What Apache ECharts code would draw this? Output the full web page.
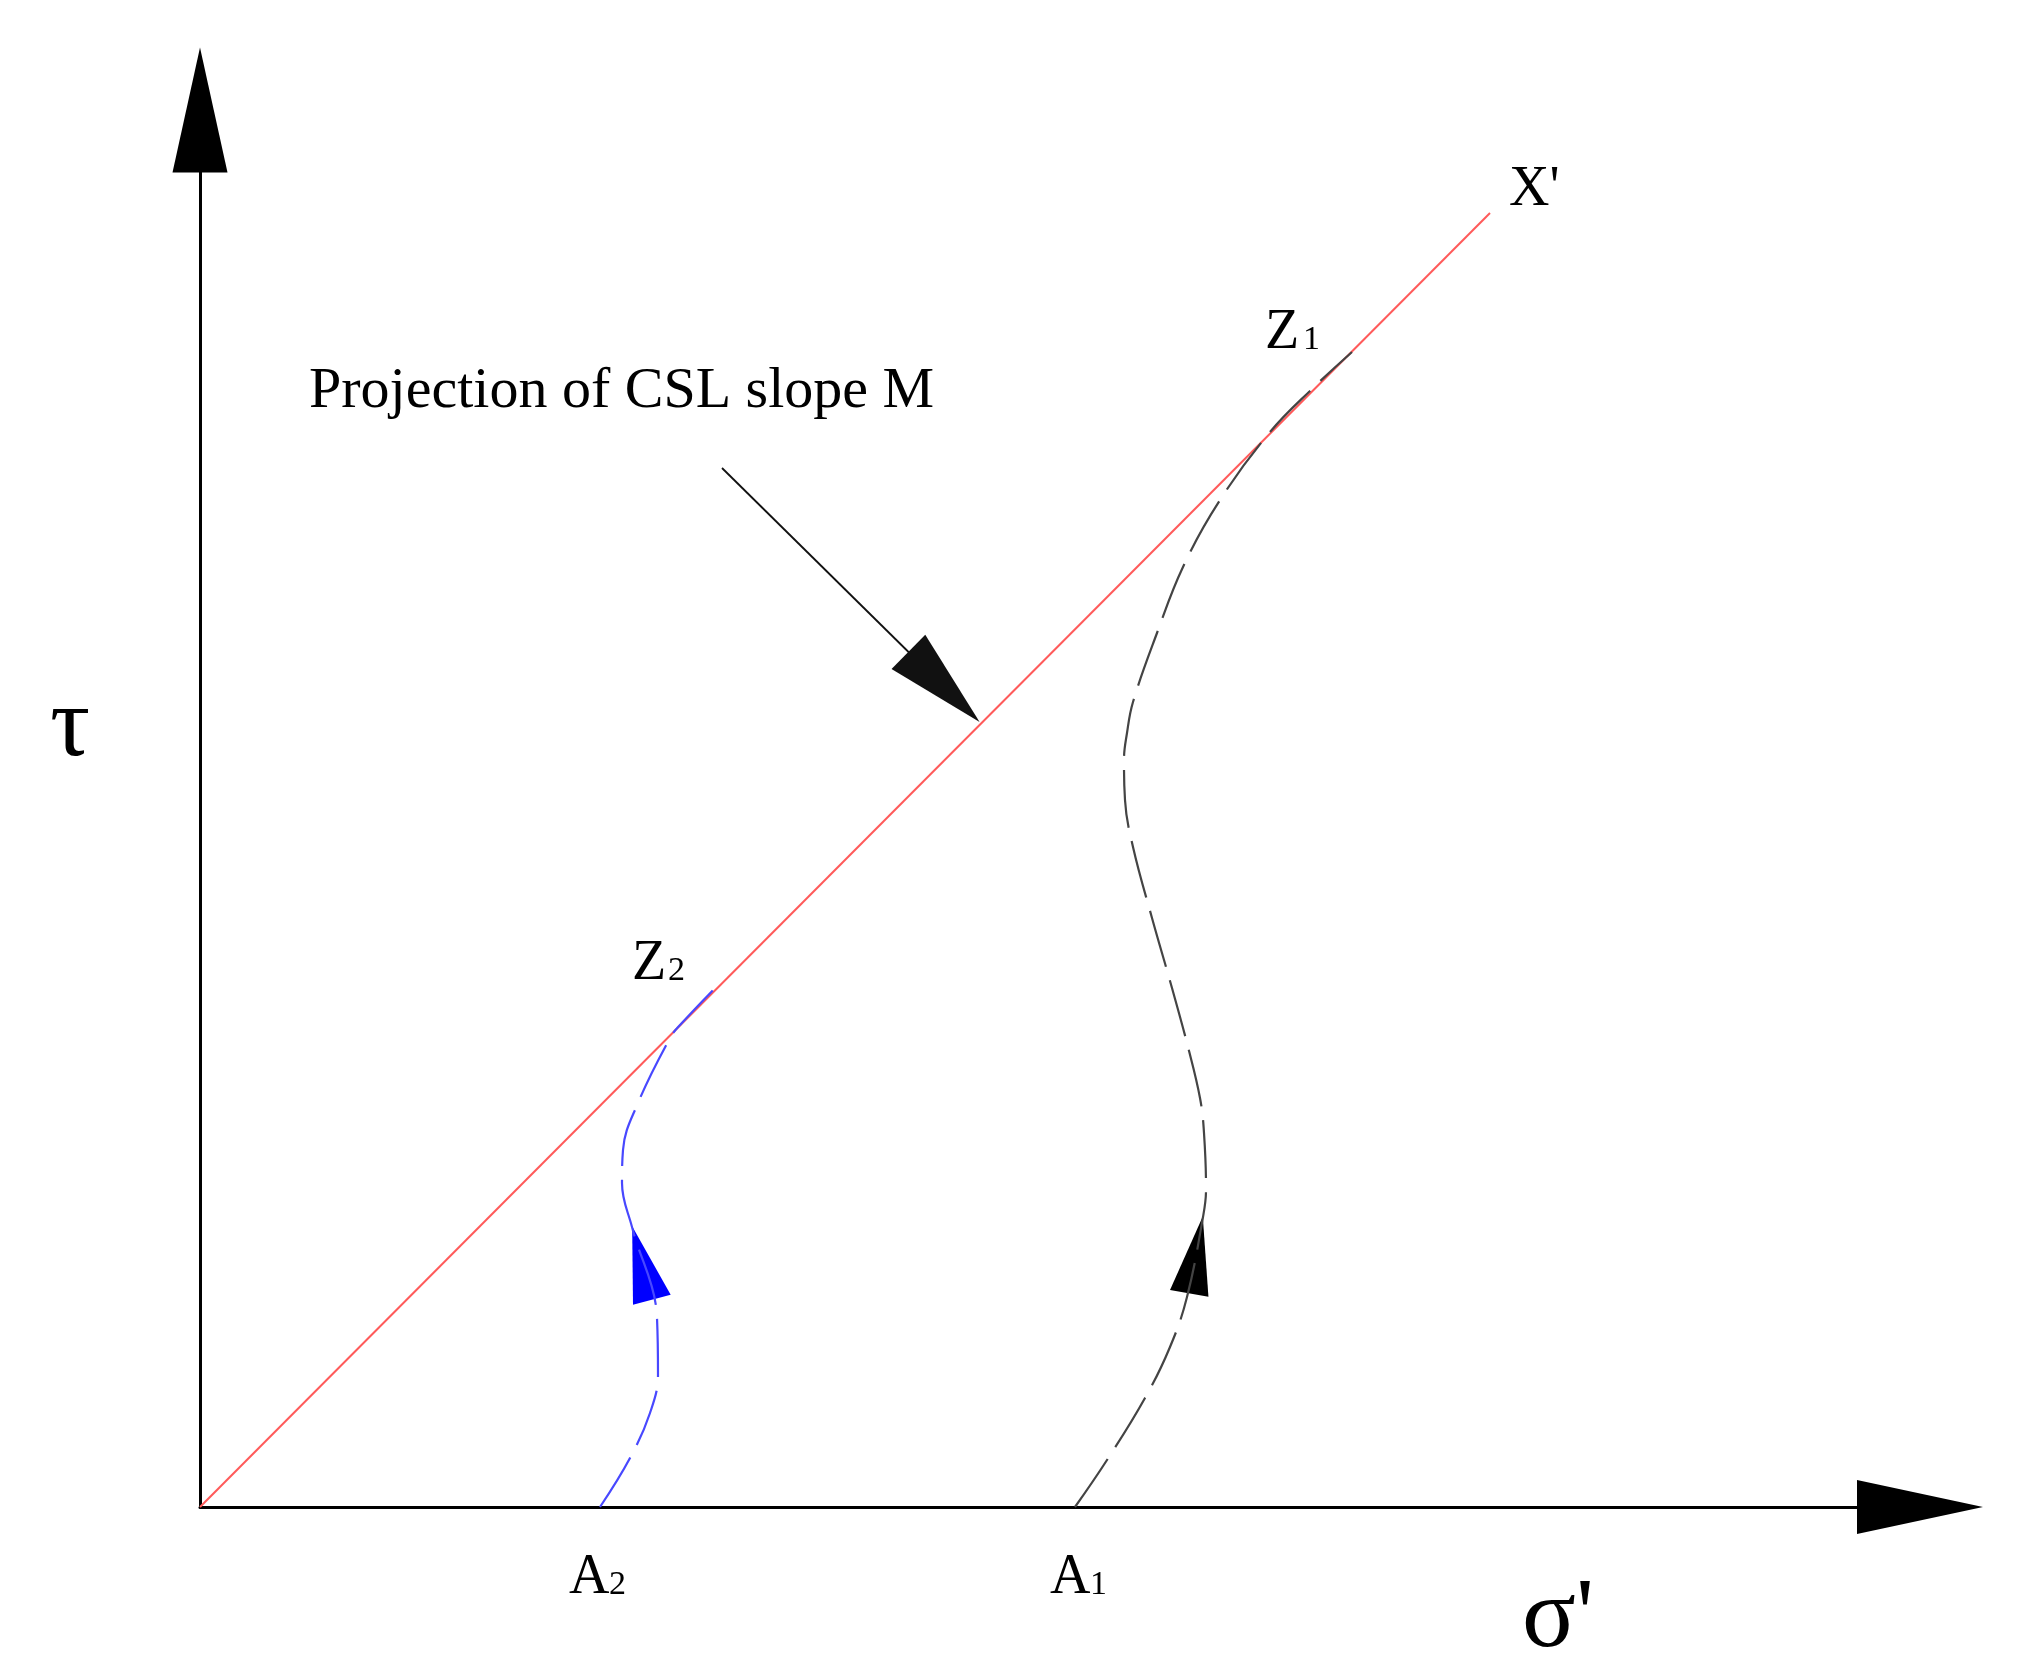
<!DOCTYPE html>
<html>
<head>
<meta charset="utf-8">
<script src="https://cdn.jsdelivr.net/npm/echarts@6/dist/echarts.min.js"></script>
<style>
  html, body { margin: 0; padding: 0; background: #fff; }
  #stressPath { width: 2037px; height: 1669px; }
</style>
</head>
<body>
<div id="stressPath"></div>
<script>
// sigma' / tau plane, 1 unit = 10 px
var cslLine = [[0, 0], [129.0, 129.4]];
// A1 -> Z1 (black dashed)
var pathA1 = [[87.5, 0], [90.7, 4.7], [94.5, 10.9], [97.0, 16.0], [98.7, 21.0], [100.3, 29.0],
    [100.6, 31.7], [100.4, 37.4], [100.0, 40.9], [98.8, 46.0], [97.2, 51.9], [95.2, 58.9],
    [93.3, 66.0], [92.5, 70.7], [92.4, 74.7], [92.7, 77.4], [93.3, 80.5], [95.7, 87.4],
    [98.3, 94.0], [102.0, 100.7], [107.0, 107.5], [111.3, 111.9], [115.2, 115.5]];
// A2 -> Z2 (blue dashed)
var pathA2 = [[40.0, 0], [43.0, 4.9], [45.0, 9.4], [45.8, 13.2], [45.7, 18.9], [43.2, 28.0],
    [42.2, 32.4], [42.3, 35.7], [43.8, 40.4], [47.0, 46.9], [48.0, 48.2], [51.7, 52.1]];
var arrowA1 = [[99.6, 25.2]];
var arrowA2 = [[44.2, 24.4]];
var noteArrow = [[52.2, 103.9], [74.4, 82.0]];
var noteText = 'Projection of CSL slope M';

var serif = '"Liberation Serif", "DejaVu Serif", serif';

function txt(s, x, y, size) {
    return {
        type: 'text',
        style: {
            text: s, x: x, y: y,
            fontFamily: serif, fontSize: size,
            fill: '#000', align: 'left', verticalAlign: 'middle'
        }
    };
}

var myChart = echarts.init(document.getElementById('stressPath'));
var option = {
    backgroundColor: '#fff',
    animation: false,
    grid: { left: 200, right: 117, top: 110, bottom: 162 },
    xAxis: {
        type: 'value', min: 0, max: 172,
        axisLine: {
            show: true, onZero: false,
            symbol: ['none', 'triangle'], symbolSize: [54, 126],
            lineStyle: { color: '#000', width: 3 }
        },
        axisTick: { show: false }, axisLabel: { show: false }, splitLine: { show: false }
    },
    yAxis: {
        type: 'value', min: 0, max: 139.7,
        axisLine: {
            show: true, onZero: false,
            symbol: ['none', 'triangle'], symbolSize: [55, 125],
            lineStyle: { color: '#000', width: 3 }
        },
        axisTick: { show: false }, axisLabel: { show: false }, splitLine: { show: false }
    },
    series: [
        {
            name: 'CSL', type: 'line', data: cslLine, symbol: 'none',
            lineStyle: { color: '#ff5a5a', width: 2 },
            markLine: {
                silent: true, animation: false,
                symbol: ['none', 'triangle'], symbolSize: [48, 100],
                label: { show: false },
                lineStyle: { color: '#111', width: 1.8, type: 'solid' },
                data: [[{ coord: noteArrow[0] }, { coord: noteArrow[1] }]]
            }
        },
        {
            name: 'A1', type: 'line', data: pathA1, symbol: 'none', smooth: 0.4,
            lineStyle: { color: '#444', width: 2.2, type: [58, 14] }
        },
        {
            name: 'A2', type: 'line', data: pathA2, symbol: 'none', smooth: 0.4,
            lineStyle: { color: '#4848ff', width: 2.2, type: [58, 14] }
        },
        {
            type: 'scatter', data: arrowA1, symbol: 'triangle',
            symbolSize: [39, 78], symbolRotate: -10, itemStyle: { color: '#000', opacity: 1 }
        },
        {
            type: 'scatter', data: arrowA2, symbol: 'triangle',
            symbolSize: [39, 76], symbolRotate: 15, itemStyle: { color: '#0000ff', opacity: 1 }
        }
    ],
    graphic: [
        txt(noteText, 309, 392, 58),
        txt("X'", 1509, 190, 56),
        txt('Z', 1265, 333, 56), txt('1', 1303, 340, 34),
        txt('Z', 632, 964, 56), txt('2', 668, 971, 34),
        txt('A', 569, 1578, 56), txt('2', 609, 1585, 34),
        txt('A', 1050, 1578, 56), txt('1', 1090, 1585, 34),
        txt('\u03c4', 50, 729, 100),
        txt("\u03c3'", 1522, 1620, 100)
    ]
};
myChart.setOption(option);
</script>
</body>
</html>
